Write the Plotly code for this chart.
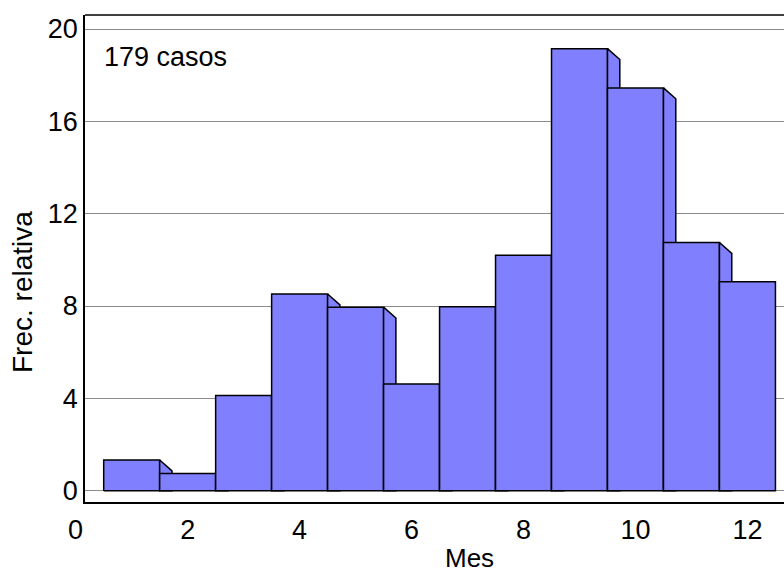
import plotly.graph_objects as go

# Data
meses = [1, 2, 3, 4, 5, 6, 7, 8, 9, 10, 11, 12]
frec_relativa = [1.33, 0.75, 4.12, 8.52, 7.95, 4.62, 7.97, 10.2, 19.15, 17.45, 10.75, 9.05]
ytick_vals = [0, 4, 8, 12, 16, 20]
xtick_vals = [2, 4, 6, 8, 10, 12]
n_casos = 179

FONT = "Liberation Sans, Arial, Helvetica, sans-serif"
FILL = "#8080ff"
EDGE = "black"
DX = 0.22   # depth offset (x units)
DY = 0.47   # depth offset (y units)
HALF = 0.5

# plot-area geometry (pixels)
L, T, B, W, H = 85, 15, 72, 784, 574
PW, PH = W - L, H - T - B

fig = go.Figure()
for i, (m, v) in enumerate(zip(meses, frec_relativa)):
    x0, x1 = m - HALF, m + HALF
    # front face
    fig.add_trace(go.Scatter(
        x=[x0, x1, x1, x0, x0], y=[0, 0, v, v, 0],
        mode="lines", fill="toself", fillcolor=FILL,
        line=dict(color=EDGE, width=1.5), hoverinfo="skip", showlegend=False))
    # side face (drawn behind next bar)
    if i < len(meses) - 1:
        fig.add_trace(go.Scatter(
            x=[x1, x1 + DX, x1 + DX, x1, x1],
            y=[v, v - DY, 0, 0, v],
            mode="lines", fill="toself", fillcolor=FILL,
            line=dict(color=EDGE, width=1.5), hoverinfo="skip", showlegend=False))


def px(xp):
    return (xp - L) / PW


def py(yp):
    return (H - B - yp) / PH


fig.update_layout(
    width=W, height=H,
    margin=dict(l=L, r=0, t=T, b=B, autoexpand=False),
    plot_bgcolor="white", paper_bgcolor="white",
    font=dict(family=FONT, size=27, color="black"),
    showlegend=False,
    xaxis=dict(range=[0.166, 12.653], tickvals=xtick_vals, automargin=False,
               ticks="outside", ticklen=3, tickcolor="rgba(0,0,0,0)",
               showgrid=False, zeroline=False,
               showline=True, linecolor="black", linewidth=1.5),
    yaxis=dict(range=[-0.49, 20.607], tickvals=ytick_vals, automargin=False,
               ticks="outside", ticklen=0,
               showgrid=True, gridcolor="#8c8c8c", gridwidth=1.3,
               zeroline=False,
               showline=True, linecolor="black", linewidth=1.5),
    shapes=[dict(type="line", xref="paper", yref="paper", x0=0, x1=1, y0=1, y1=1,
                 line=dict(color="black", width=1.5))],
    annotations=[
        dict(text="0", xref="paper", yref="paper", x=px(75.7), y=py(530),
             xanchor="center", yanchor="middle", showarrow=False, font=dict(size=27)),
        dict(text=f"{n_casos} casos", xref="paper", yref="paper",
             x=px(102), y=py(57), xanchor="left", yanchor="middle",
             showarrow=False, font=dict(size=27)),
        dict(text="Mes", xref="paper", yref="paper", borderpad=0,
             x=px(469), y=py(558), xanchor="center", yanchor="middle",
             showarrow=False, font=dict(size=26)),
        dict(text="Frec. relativa", xref="paper", yref="paper", textangle=-90,
             x=px(23), y=py(292), xanchor="center", yanchor="middle",
             showarrow=False, font=dict(size=28)),
    ],
)

fig.write_html("out.html", config={"displayModeBar": False},
               post_script="document.body.style.margin='0px';document.body.style.overflow='hidden';")
